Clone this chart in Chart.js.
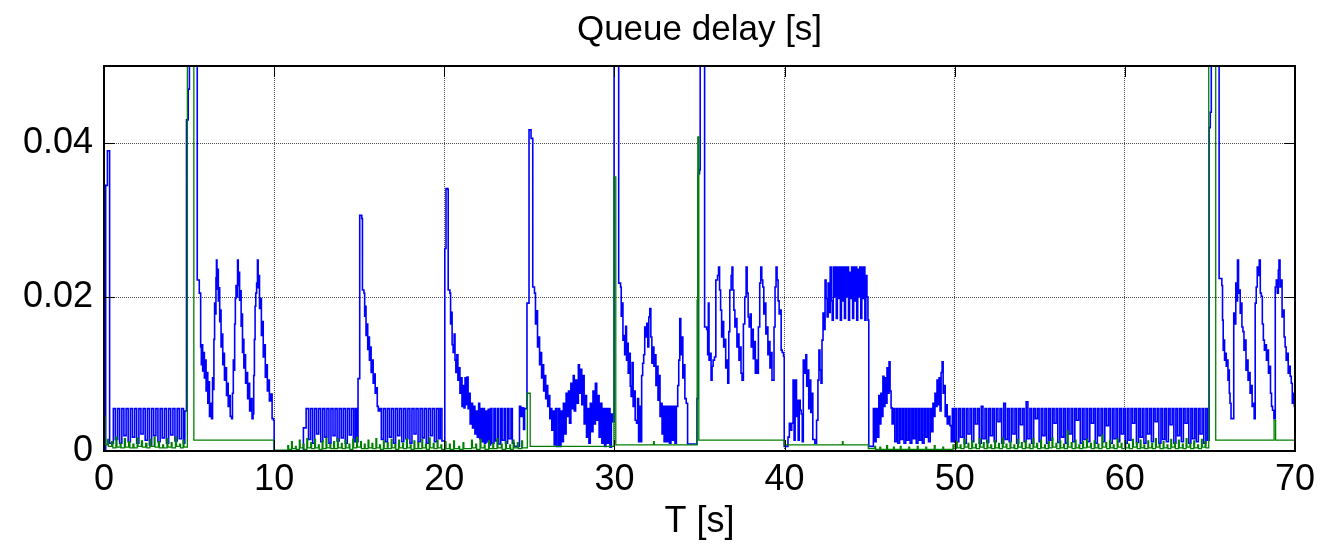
<!DOCTYPE html>
<html>
<head>
<meta charset="utf-8">
<script src="https://cdn.jsdelivr.net/npm/chart.js@4.4.1/dist/chart.umd.min.js"></script>
<style>
body{margin:0;background:#fff}
canvas{display:block}
</style>
</head>
<body>
<canvas id="myChart" width="1340" height="544"></canvas>
<script>
// tick values
const xTicks = [0, 10, 20, 30, 40, 50, 60, 70]
const yTicks = [0, 0.02, 0.04]

// blue queue: [time s, delay s] (0.08 = off the top)
const blueQueue = [
  [0,0],[0.1,0.0345],[0.2,0.039],[0.33,0.001],
  [0.55,0.0055],[0.67,0.0015],[0.8,0.0055],[0.92,0.001],[1.05,0.0055],[1.17,0.002],[1.3,0.0055],[1.42,0.0012],
  [1.55,0.0055],[1.67,0.0018],[1.8,0.0055],[1.92,0.001],[2.05,0.0055],[2.17,0.0022],[2.3,0.0055],[2.42,0.0014],
  [2.55,0.0055],[2.67,0.0008],[2.8,0.0055],[2.92,0.002],[3.05,0.0055],[3.17,0.0012],[3.3,0.0055],[3.42,0.0017],
  [3.55,0.0055],[3.67,0.001],[3.8,0.0055],[3.92,0.0021],[4.05,0.0055],[4.17,0.0013],[4.3,0.0055],[4.42,0.0016],
  [4.55,0.0055],[4.67,0.001],[4.75,0.0052],
  [4.85,0.043],[4.95,0.047],[5.02,0.08],
  [5.48,0.0222],[5.6,0.0205],[5.68,0.0135],[5.72,0.0112],[5.76,0.0138],[5.8,0.0104],[5.86,0.0128],[5.9,0.0095],
  [5.95,0.0118],[6.0,0.0078],[6.05,0.0102],[6.1,0.0062],[6.15,0.009],[6.2,0.0045],[6.27,0.0062],[6.32,0.0042],
  [6.38,0.0095],[6.42,0.008],[6.46,0.0145],[6.5,0.0192],[6.54,0.0178],[6.58,0.0225],[6.61,0.0248],[6.64,0.021],
  [6.68,0.0236],[6.72,0.0195],[6.76,0.0212],[6.8,0.0168],[6.84,0.0183],[6.88,0.0135],[6.93,0.0152],[6.98,0.0112],
  [7.03,0.0127],[7.08,0.0092],[7.14,0.0108],[7.2,0.0072],[7.25,0.0088],[7.3,0.0058],[7.36,0.0072],[7.42,0.0045],
  [7.5,0.0042],[7.55,0.0075],[7.6,0.0118],[7.64,0.0105],[7.68,0.0165],[7.72,0.0198],[7.76,0.0215],[7.8,0.02],
  [7.85,0.0248],[7.89,0.0215],[7.93,0.0232],[7.97,0.0196],[8.02,0.0208],[8.06,0.0162],[8.1,0.0178],[8.14,0.0128],
  [8.18,0.0145],[8.22,0.0108],[8.28,0.0125],[8.32,0.0088],[8.38,0.0102],[8.44,0.0068],[8.5,0.0088],[8.56,0.0052],
  [8.62,0.0068],[8.7,0.0042],[8.76,0.0048],[8.8,0.0098],[8.84,0.0145],[8.88,0.0188],[8.92,0.0205],[8.97,0.0218],
  [9.02,0.0248],[9.06,0.0212],[9.1,0.0228],[9.14,0.0185],[9.2,0.0198],[9.25,0.015],[9.3,0.0168],[9.36,0.0122],
  [9.42,0.0138],[9.48,0.0096],[9.54,0.0112],[9.6,0.0078],[9.66,0.0092],[9.72,0.0065],[9.8,0.0074],[9.88,0.0042],
  [9.96,0.004],[10.0,0],
  [11.72,0.003],[11.88,0.0055],[12.02,0.0015],[12.14,0.0055],[12.26,0.001],[12.38,0.0055],[12.5,0.0022],[12.62,0.0055],
  [12.74,0.0012],[12.86,0.0055],[12.98,0.0018],[13.1,0.0055],[13.22,0.001],[13.34,0.0055],[13.46,0.002],[13.58,0.0055],
  [13.7,0.0013],[13.82,0.0055],[13.94,0.0017],[14.06,0.0055],[14.18,0.001],[14.3,0.0055],[14.42,0.0021],[14.54,0.0055],
  [14.66,0.0012],[14.76,0.0055],[14.84,0.0012],
  [14.93,0.0094],[15.03,0.0306],[15.15,0.0302],[15.19,0.0209],[15.28,0.0205],[15.32,0.0175],[15.36,0.0188],[15.4,0.015],
  [15.44,0.0165],[15.5,0.0132],[15.55,0.0148],[15.6,0.0118],[15.65,0.0135],[15.7,0.0102],[15.76,0.0118],[15.82,0.0088],
  [15.88,0.01],[15.94,0.0075],[16.0,0.0082],[16.06,0.0058],[16.12,0.0052],[16.2,0.0055],
  [16.3,0.0015],[16.42,0.0055],[16.54,0.0012],[16.66,0.0055],[16.78,0.0018],[16.9,0.0055],[17.02,0.001],[17.14,0.0055],
  [17.26,0.002],[17.38,0.0055],[17.5,0.0012],[17.62,0.0055],[17.74,0.0016],[17.86,0.0055],[17.98,0.001],[18.1,0.0055],
  [18.22,0.0022],[18.34,0.0055],[18.46,0.0012],[18.58,0.0055],[18.7,0.0017],[18.82,0.0055],[18.94,0.001],[19.06,0.0055],
  [19.18,0.002],[19.3,0.0055],[19.42,0.0012],[19.54,0.0055],[19.66,0.0016],[19.76,0.0055],[19.86,0.0013],
  [20.03,0.0263],[20.1,0.0341],[20.2,0.034],[20.23,0.0209],[20.33,0.0205],[20.37,0.0165],[20.42,0.018],[20.46,0.0138],
  [20.52,0.0128],[20.58,0.0152],[20.63,0.0118],[20.68,0.0102],[20.74,0.0125],[20.8,0.0092],[20.86,0.0108],[20.92,0.0075],
  [20.98,0.0095],[21.04,0.0058],[21.1,0.0085],[21.16,0.0056],[21.22,0.0095],[21.28,0.006],[21.34,0.0096],[21.4,0.0055],
  [21.46,0.0075],[21.52,0.0035],[21.6,0.0062],[21.66,0.003],[21.74,0.0058],[21.8,0.0022],[21.88,0.0052],[21.94,0.0018],
  [22.02,0.0062],[22.08,0.0016],[22.16,0.0055],[22.22,0.0012],[22.3,0.0055],[22.36,0.001],[22.44,0.0052],[22.5,0.0012],
  [22.58,0.0054],[22.64,0.0008],[22.72,0.0055],[22.8,0.001],[22.92,0.0055],[23.0,0.0013],[23.12,0.0055],[23.2,0.0009],
  [23.32,0.0055],[23.4,0.0014],[23.52,0.0055],[23.6,0.001],[23.72,0.0055],[23.8,0.0016],[23.92,0.0055],[24.0,0.001],
  [24.1,0.0006],[24.42,0.0058],[24.5,0.0045],[24.58,0.0056],[24.66,0.0028],[24.72,0.0055],
  [24.86,0.0192],[24.98,0.0417],[25.1,0.0406],[25.2,0.0213],[25.3,0.0205],[25.36,0.0165],[25.42,0.0182],[25.48,0.0135],
  [25.54,0.0148],[25.6,0.0112],[25.66,0.0128],[25.72,0.0095],[25.78,0.0112],[25.84,0.0078],[25.9,0.0098],[25.96,0.0068],
  [26.02,0.0085],[26.08,0.0058],[26.14,0.0072],[26.2,0.0042],[26.26,0.0055],[26.32,0.0027],[26.4,0.0052],[26.46,0.0008],
  [26.54,0.0055],[26.6,0.0006],[26.7,0.0055],[26.78,0.0006],[26.86,0.0052],[26.94,0.0012],[27.0,0.0062],[27.08,0.0022],
  [27.16,0.0075],[27.22,0.0045],[27.3,0.0078],[27.36,0.0036],[27.44,0.0088],[27.5,0.0055],[27.58,0.0098],[27.64,0.0052],
  [27.72,0.0092],[27.8,0.0062],[27.88,0.0112],[27.94,0.0075],[28.02,0.0106],[28.08,0.006],[28.16,0.0098],[28.22,0.0035],
  [28.3,0.0072],[28.36,0.0018],[28.44,0.0055],[28.5,0.001],[28.58,0.0062],[28.66,0.0025],[28.74,0.0078],[28.8,0.0035],
  [28.88,0.0088],[28.96,0.004],[29.04,0.0072],[29.1,0.0018],[29.18,0.0062],[29.26,0.001],[29.34,0.0055],[29.42,0.0006],
  [29.5,0.0055],[29.58,0.001],[29.66,0.0055],[29.74,0.0005],[29.82,0.0048],[29.9,0.0038],[29.98,0.08],
  [30.25,0.0218],[30.36,0.0213],[30.4,0.0175],[30.45,0.0192],[30.5,0.0144],[30.55,0.015],[30.6,0.0125],[30.66,0.0162],
  [30.71,0.0118],[30.76,0.014],[30.81,0.0101],[30.87,0.0127],[30.93,0.0084],[30.98,0.0071],[31.04,0.0115],[31.1,0.0058],
  [31.16,0.0078],[31.22,0.004],[31.3,0.0036],[31.36,0.0068],[31.42,0.0012],[31.48,0.0058],[31.54,0.0012],[31.6,0.0098],
  [31.66,0.0114],[31.72,0.0125],[31.78,0.0161],[31.84,0.0148],[31.9,0.0166],[31.96,0.0135],[32.02,0.0174],[32.08,0.0185],
  [32.14,0.0148],[32.2,0.0114],[32.26,0.0135],[32.32,0.011],[32.38,0.0125],[32.44,0.0085],[32.5,0.011],[32.56,0.0066],
  [32.62,0.0098],[32.68,0.0045],[32.74,0.0062],[32.8,0.0022],[32.86,0.0058],[32.92,0.0012],[33.0,0.0058],[33.08,0.0012],
  [33.16,0.0058],[33.24,0.001],[33.32,0.0058],[33.4,0.0014],[33.48,0.0058],[33.56,0.001],[33.64,0.0058],[33.72,0.0085],
  [33.78,0.0118],[33.84,0.0172],[33.9,0.0125],[33.96,0.0148],[34.02,0.0095],[34.08,0.0112],[34.14,0.0068],[34.22,0.0062],
  [34.3,0.0009],[34.8,0.0009],[34.85,0.0068],[34.92,0.036],[35.0,0.0365],[35.04,0.08],
  [35.3,0.0161],[35.42,0.0158],[35.48,0.0125],[35.52,0.0192],[35.56,0.0118],[35.62,0.0127],[35.68,0.0092],[35.74,0.011],
  [35.8,0.0118],[35.88,0.0122],[35.96,0.0222],[36.06,0.0228],[36.12,0.0239],[36.18,0.0209],[36.24,0.0183],[36.3,0.0148],
  [36.36,0.0168],[36.42,0.0135],[36.48,0.0145],[36.54,0.0108],[36.6,0.0118],[36.66,0.0088],[36.72,0.0155],[36.78,0.0209],
  [36.86,0.0228],[36.91,0.0239],[36.96,0.0209],[37.02,0.0183],[37.08,0.0161],[37.14,0.0172],[37.2,0.0135],[37.26,0.0152],
  [37.32,0.0118],[37.38,0.0135],[37.44,0.0101],[37.5,0.0092],[37.58,0.0165],[37.66,0.02],[37.74,0.0239],[37.8,0.0205],
  [37.86,0.0174],[37.92,0.0161],[37.98,0.0178],[38.04,0.0135],[38.1,0.0158],[38.16,0.012],[38.22,0.0142],[38.28,0.0101],
  [38.34,0.0118],[38.4,0.0101],[38.46,0.0161],[38.54,0.0218],[38.6,0.0239],[38.66,0.0222],[38.72,0.0213],[38.78,0.0178],
  [38.84,0.0192],[38.9,0.0152],[38.96,0.0161],[39.02,0.0125],[39.08,0.0142],[39.14,0.0108],[39.2,0.0128],[39.26,0.0092],
  [39.32,0.0092],[39.38,0.0161],[39.44,0.0213],[39.5,0.0239],[39.56,0.0222],[39.62,0.0195],[39.68,0.0178],[39.74,0.0183],
  [39.8,0.0131],[39.86,0.0128],[39.94,0.0123],[39.98,0.0006],
  [40.2,0.0018],[40.28,0.0036],[40.34,0.0027],[40.42,0.0036],[40.5,0.0092],[40.56,0.0014],[40.62,0.0092],[40.7,0.0045],
  [40.76,0.0066],[40.8,0.0014],[40.86,0.0066],[40.92,0.0053],[40.98,0.0048],[41.04,0.0012],[41.1,0.0118],[41.18,0.0101],
  [41.25,0.0125],[41.3,0.0084],[41.36,0.0105],[41.42,0.0055],[41.48,0.0092],[41.54,0.005],[41.6,0.0075],[41.66,0.0015],
  [41.78,0.001],[41.88,0.004],[41.96,0.0092],[42.02,0.0131],[42.08,0.0105],[42.14,0.0088],[42.2,0.0144],[42.26,0.0179],
  [42.32,0.0158],[42.38,0.0222],[42.44,0.0198],[42.5,0.0174],[42.56,0.0218],[42.62,0.018],[42.68,0.0239],[42.74,0.0195],
  [42.8,0.017],[42.86,0.0239],[42.92,0.02],[42.98,0.0239],[43.04,0.0172],[43.1,0.0239],[43.16,0.0198],[43.22,0.0239],
  [43.28,0.017],[43.34,0.0239],[43.4,0.0195],[43.46,0.0239],[43.52,0.0172],[43.58,0.0239],[43.64,0.02],[43.7,0.0239],
  [43.76,0.017],[43.82,0.0232],[43.88,0.0198],[43.94,0.0239],[44.0,0.0172],[44.06,0.0239],[44.12,0.0195],[44.18,0.0239],
  [44.24,0.017],[44.3,0.0236],[44.36,0.02],[44.42,0.0239],[44.48,0.0172],[44.54,0.0239],[44.6,0.0198],[44.66,0.0239],
  [44.72,0.017],[44.78,0.0228],[44.84,0.02],[44.9,0.017],[44.95,0.0006],
  [45.22,0.0055],[45.3,0.0012],[45.38,0.0055],[45.46,0.0018],[45.54,0.0072],[45.6,0.0035],[45.66,0.0075],[45.72,0.0045],
  [45.78,0.0097],[45.84,0.0058],[45.9,0.0095],[45.96,0.0062],[46.02,0.0108],[46.08,0.0075],[46.14,0.0116],[46.2,0.0078],
  [46.26,0.0056],[46.32,0.0035],[46.4,0.0055],[46.48,0.0012],[46.58,0.0055],[46.66,0.001],[46.76,0.0055],[46.84,0.0015],
  [46.94,0.0055],[47.02,0.001],[47.12,0.0055],[47.2,0.0014],[47.3,0.0055],[47.38,0.001],[47.48,0.0055],[47.56,0.0016],
  [47.66,0.0055],[47.74,0.001],[47.84,0.0055],[47.92,0.0014],[48.02,0.0055],[48.1,0.001],[48.2,0.0055],[48.28,0.0018],
  [48.38,0.0055],[48.46,0.0012],[48.56,0.0055],[48.64,0.0025],[48.72,0.0062],[48.78,0.0045],[48.84,0.0075],[48.9,0.0058],
  [48.96,0.0092],[49.02,0.006],[49.08,0.0095],[49.14,0.0052],[49.2,0.0102],[49.26,0.0116],[49.32,0.0075],[49.38,0.0085],
  [49.44,0.0045],[49.5,0.006],[49.56,0.0035],[49.64,0.0045],[49.72,0.0033],[49.8,0.0012],[49.86,0.0055],[49.94,0.0012],
  [50.02,0.0055],[50.12,0.0012],[50.24,0.0055],[50.34,0.0018],[50.46,0.0055],[50.56,0.001],[50.68,0.0055],[50.78,0.0022],
  [50.9,0.0055],[51.0,0.0012],[51.12,0.0055],[51.22,0.0035],[51.34,0.0055],[51.44,0.001],[51.56,0.0058],[51.66,0.0016],
  [51.78,0.0055],[51.88,0.0011],[52.0,0.0055],[52.1,0.002],[52.22,0.0055],[52.32,0.0012],[52.44,0.0055],[52.54,0.0038],
  [52.66,0.0055],[52.76,0.001],[52.88,0.0062],[52.98,0.0015],[53.1,0.0055],[53.2,0.0012],[53.32,0.0055],[53.42,0.0022],
  [53.54,0.0055],[53.64,0.001],[53.76,0.0055],[53.86,0.0034],[53.98,0.0055],[54.08,0.0012],[54.2,0.0064],[54.3,0.0016],
  [54.42,0.0055],[54.52,0.001],[54.64,0.0055],[54.74,0.0042],[54.86,0.0055],[54.96,0.0012],[55.08,0.0055],[55.18,0.002],
  [55.3,0.0055],[55.4,0.001],[55.52,0.0055],[55.62,0.0014],[55.74,0.0055],[55.84,0.0036],[55.96,0.0055],[56.06,0.0011],
  [56.18,0.0055],[56.28,0.0018],[56.4,0.0055],[56.5,0.001],[56.62,0.0055],[56.72,0.0022],[56.84,0.0055],[56.94,0.0012],
  [57.06,0.0055],[57.16,0.004],[57.28,0.0055],[57.38,0.001],[57.5,0.0055],[57.6,0.0015],[57.72,0.0055],[57.82,0.0012],
  [57.94,0.0055],[58.04,0.0036],[58.16,0.0055],[58.26,0.001],[58.38,0.0055],[58.48,0.002],[58.6,0.0055],[58.7,0.0012],
  [58.82,0.0055],[58.92,0.0033],[59.04,0.0055],[59.14,0.001],[59.26,0.0055],[59.36,0.0016],[59.48,0.0055],[59.58,0.0012],
  [59.7,0.0055],[59.8,0.0022],[59.92,0.0055],[60.02,0.001],[60.14,0.0055],[60.24,0.0014],[60.36,0.0055],[60.46,0.0036],
  [60.58,0.0055],[60.68,0.0011],[60.8,0.0055],[60.9,0.0018],[61.02,0.0055],[61.12,0.001],[61.24,0.0055],[61.34,0.0022],
  [61.46,0.0055],[61.56,0.0012],[61.68,0.0055],[61.78,0.0038],[61.9,0.0055],[62.0,0.001],[62.12,0.0055],[62.22,0.0015],
  [62.34,0.0055],[62.44,0.0012],[62.56,0.0055],[62.66,0.0034],[62.78,0.0055],[62.88,0.001],[63.0,0.0055],[63.1,0.002],
  [63.22,0.0055],[63.32,0.0012],[63.44,0.0055],[63.54,0.0036],[63.66,0.0055],[63.76,0.001],[63.88,0.0055],[63.98,0.0016],
  [64.1,0.0055],[64.2,0.0012],[64.32,0.0055],[64.42,0.0022],[64.54,0.0055],[64.64,0.001],[64.76,0.0055],[64.86,0.0014],
  [64.95,0.042],[65.02,0.044],[65.08,0.08],
  [65.54,0.0224],[65.7,0.0215],[65.74,0.017],[65.78,0.0131],[65.82,0.0144],[65.86,0.0118],[65.9,0.0127],[65.96,0.011],
  [66.02,0.0118],[66.06,0.0092],[66.1,0.0105],[66.14,0.0075],[66.18,0.0062],[66.24,0.0042],[66.34,0.0042],[66.4,0.0179],
  [66.46,0.0165],[66.52,0.0218],[66.58,0.0195],[66.62,0.0248],[66.68,0.0205],[66.74,0.0209],[66.78,0.0179],[66.82,0.0192],
  [66.88,0.0161],[66.94,0.0155],[67.0,0.0131],[67.06,0.0144],[67.12,0.0105],[67.18,0.0118],[67.24,0.0092],[67.3,0.0102],
  [67.36,0.0075],[67.42,0.0085],[67.48,0.0058],[67.54,0.0062],[67.6,0.0042],[67.66,0.0192],[67.72,0.0213],[67.78,0.0239],
  [67.84,0.0228],[67.9,0.0248],[67.96,0.0205],[68.02,0.0201],[68.08,0.0165],[68.14,0.0144],[68.2,0.0131],[68.26,0.0138],
  [68.32,0.0118],[68.38,0.0131],[68.44,0.0101],[68.5,0.011],[68.56,0.0075],[68.62,0.0058],[68.68,0.0053],[68.76,0.0042],
  [68.84,0.0213],[68.9,0.0222],[68.96,0.0205],[69.02,0.0235],[69.06,0.0248],[69.12,0.0213],[69.18,0.0222],[69.24,0.0174],
  [69.3,0.0183],[69.36,0.0148],[69.42,0.0135],[69.48,0.0118],[69.54,0.0127],[69.6,0.0101],[69.66,0.011],[69.72,0.0097],
  [69.78,0.0088],[69.84,0.0062],[69.9,0.0075],[69.96,0.0058],[70,0.0058]
]

// green queue: [time s, delay s]
const greenQueue = [
  [0,0.0045],[0.06,0.0008],[0.2,0.0015],[0.26,0.0006],[0.45,0.0012],[0.52,0.0004],[0.7,0.0018],[0.76,0.0005],
  [0.95,0.001],[1.0,0.0004],[1.2,0.0016],[1.26,0.0005],[1.45,0.0012],[1.52,0.0004],[1.7,0.0009],[1.76,0.0004],
  [1.95,0.0017],[2.0,0.0006],[2.2,0.0013],[2.26,0.0005],[2.45,0.001],[2.52,0.0004],[2.7,0.0015],[2.76,0.0006],
  [2.95,0.0018],[3.0,0.0005],[3.2,0.0012],[3.26,0.0004],[3.45,0.0008],[3.5,0.0004],[3.7,0.0016],[3.76,0.0005],
  [3.95,0.0011],[4.0,0.0004],[4.2,0.0018],[4.26,0.0006],[4.45,0.0009],[4.5,0.0004],[4.65,0.0014],[4.7,0.0005],
  [4.9,0.08],[5.28,0.0014],[9.98,0.0014],[10.0,0.0001],
  [10.8,0.0007],[10.85,0.0002],[11.02,0.0012],[11.07,0.0003],[11.25,0.0006],[11.3,0.0002],[11.48,0.0014],[11.53,0.0004],
  [11.7,0.0009],[11.75,0.0002],[11.92,0.0016],[11.97,0.0004],[12.15,0.0011],[12.2,0.0003],[12.38,0.0015],[12.43,0.0004],
  [12.6,0.0008],[12.65,0.0002],[12.82,0.0013],[12.87,0.0003],[13.05,0.0017],[13.1,0.0004],[13.28,0.0009],[13.33,0.0003],
  [13.5,0.0012],[13.55,0.0003],[13.72,0.0016],[13.77,0.0004],[13.95,0.001],[14.0,0.0003],[14.18,0.0014],[14.23,0.0004],
  [14.4,0.0009],[14.45,0.0002],[14.62,0.0015],[14.67,0.0004],[14.85,0.0018],[14.9,0.0005],[15.08,0.0012],[15.13,0.0003],
  [15.3,0.0009],[15.35,0.0003],[15.52,0.0014],[15.57,0.0004],[15.75,0.001],[15.8,0.0003],[15.98,0.0016],[16.03,0.0004],
  [16.2,0.0008],[16.25,0.0002],[16.42,0.0013],[16.47,0.0003],[16.65,0.0011],[16.7,0.0003],[16.88,0.0015],[16.93,0.0004],
  [17.1,0.0009],[17.15,0.0002],[17.32,0.0014],[17.37,0.0004],[17.55,0.001],[17.6,0.0003],[17.78,0.0016],[17.83,0.0004],
  [18.0,0.0008],[18.05,0.0002],[18.22,0.0013],[18.27,0.0003],[18.45,0.0011],[18.5,0.0003],[18.68,0.0015],[18.73,0.0004],
  [18.9,0.0009],[18.95,0.0002],[19.12,0.0017],[19.17,0.0004],[19.35,0.001],[19.4,0.0003],[19.58,0.0014],[19.63,0.0004],
  [19.8,0.0008],[19.85,0.0002],[20.05,0.0012],[20.1,0.0003],[20.3,0.0009],[20.35,0.0002],[20.55,0.0013],[20.6,0.0003],
  [20.85,0.0006],[20.9,0.0002],[21.1,0.0011],[21.15,0.0003],[21.6,0.0014],[21.65,0.0004],[21.85,0.0009],[21.9,0.0002],
  [22.1,0.0015],[22.15,0.0004],[22.35,0.0008],[22.4,0.0002],[22.6,0.0013],[22.65,0.0003],[22.85,0.001],[22.9,0.0003],
  [23.1,0.0016],[23.15,0.0004],[23.35,0.0009],[23.4,0.0002],[23.6,0.0012],[23.65,0.0003],[23.85,0.0008],[23.9,0.0002],
  [24.05,0.0014],[24.1,0.0004],[24.3,0.0011],[24.35,0.0003],[24.55,0.0013],[24.6,0.0004],
  [24.88,0.0075],[25.05,0.0006],[29.97,0.0356],[30.08,0.0008],[32.3,0.0012],[32.34,0.0008],
  [34.86,0.0196],[34.9,0.0408],[34.96,0.0014],[39.98,0.0008],[43.4,0.0012],[43.44,0.0008],[44.92,0.0003],
  [45.3,0.0006],[45.35,0.0002],[45.6,0.0005],[45.65,0.0002],[46.0,0.0007],[46.05,0.0002],[46.4,0.0005],[46.45,0.0002],
  [46.8,0.0006],[46.85,0.0002],[47.3,0.0005],[47.35,0.0002],[47.8,0.0006],[47.85,0.0002],[48.3,0.0005],[48.35,0.0002],
  [48.8,0.0007],[48.85,0.0002],[49.3,0.0005],[49.35,0.0002],[49.9,0.0008],[49.95,0.0003],
  [50.1,0.0012],[50.15,0.0004],[50.32,0.0008],[50.37,0.0003],[50.55,0.0015],[50.6,0.0005],[50.78,0.001],[50.83,0.0003],
  [51.0,0.0013],[51.05,0.0004],[51.22,0.0009],[51.27,0.0003],[51.45,0.0016],[51.5,0.0005],[51.68,0.0011],[51.73,0.0003],
  [51.9,0.0014],[51.95,0.0004],[52.12,0.0008],[52.17,0.0003],[52.35,0.0013],[52.4,0.0004],[52.58,0.001],[52.63,0.0003],
  [52.8,0.0017],[52.85,0.0005],[53.02,0.0009],[53.07,0.0003],[53.25,0.0012],[53.3,0.0004],[53.48,0.0008],[53.53,0.0003],
  [53.7,0.0015],[53.75,0.0005],[53.92,0.0011],[53.97,0.0003],[54.15,0.0013],[54.2,0.0004],[54.38,0.0009],[54.43,0.0003],
  [54.6,0.0016],[54.65,0.0005],[54.82,0.001],[54.87,0.0003],[55.05,0.0014],[55.1,0.0004],[55.28,0.0008],[55.33,0.0003],
  [55.5,0.0012],[55.55,0.0004],[55.72,0.0017],[55.77,0.0005],[55.95,0.001],[56.0,0.0003],[56.18,0.0013],[56.23,0.0004],
  [56.4,0.0009],[56.45,0.0003],[56.62,0.0026],[56.67,0.0005],[56.85,0.0011],[56.9,0.0003],[57.08,0.0014],[57.13,0.0004],
  [57.3,0.0008],[57.35,0.0003],[57.52,0.0012],[57.57,0.0004],[57.75,0.0015],[57.8,0.0005],[57.98,0.001],[58.03,0.0003],
  [58.2,0.0013],[58.25,0.0004],[58.42,0.0009],[58.47,0.0003],[58.65,0.0021],[58.7,0.0005],[58.88,0.0011],[58.93,0.0003],
  [59.1,0.0014],[59.15,0.0004],[59.32,0.0008],[59.37,0.0003],[59.55,0.0016],[59.6,0.0005],[59.78,0.001],[59.83,0.0003],
  [60.0,0.0013],[60.05,0.0004],[60.22,0.0009],[60.27,0.0003],[60.45,0.0015],[60.5,0.0005],[60.68,0.0011],[60.73,0.0003],
  [60.9,0.0014],[60.95,0.0004],[61.12,0.0008],[61.17,0.0003],[61.35,0.0013],[61.4,0.0004],[61.58,0.001],[61.63,0.0003],
  [61.8,0.0016],[61.85,0.0005],[62.02,0.0009],[62.07,0.0003],[62.25,0.0012],[62.3,0.0004],[62.48,0.0008],[62.53,0.0003],
  [62.7,0.0015],[62.75,0.0005],[62.92,0.0011],[62.97,0.0003],[63.15,0.0014],[63.2,0.0004],[63.38,0.0009],[63.43,0.0003],
  [63.6,0.0016],[63.65,0.0005],[63.82,0.001],[63.87,0.0003],[64.05,0.0013],[64.1,0.0004],[64.28,0.0008],[64.33,0.0003],
  [64.5,0.0015],[64.55,0.0005],[64.72,0.0012],[64.77,0.0004],
  [64.93,0.08],[65.34,0.0014],[68.77,0.004],[68.86,0.0014],[70,0.0014]
]

const FONT = "Arial, 'Liberation Sans', sans-serif"

// matlab style box with inward ticks
const boxPlugin = {
  id: 'box',
  afterDraw(chart) {
    const c = chart.ctx
    const a = chart.chartArea
    const xs = chart.scales.x
    const ys = chart.scales.y
    c.save()
    c.strokeStyle = '#000'
    c.lineWidth = 1
    c.beginPath()
    xTicks.forEach(v => {
      let px = Math.round(xs.getPixelForValue(v)) + 0.5
      c.moveTo(px, a.bottom); c.lineTo(px, a.bottom - 11)
      c.moveTo(px, a.top); c.lineTo(px, a.top + 11)
    })
    yTicks.forEach(v => {
      let py = Math.round(ys.getPixelForValue(v)) + 0.5
      c.moveTo(a.left, py); c.lineTo(a.left + 11, py)
      c.moveTo(a.right, py); c.lineTo(a.right - 11, py)
    })
    c.stroke()
    c.lineWidth = 2
    c.strokeRect(a.left, a.top, a.right - a.left, a.bottom - a.top)
    c.restore()
  }
}

const ctx = document.getElementById('myChart').getContext('2d')
let myChart = new Chart(ctx, {
  type: 'line',
  data: {
    datasets: [
      {
        label: 'green',
        data: greenQueue.map(p => ({x: p[0], y: p[1]})),
        borderColor: '#008000',
        borderWidth: 1.3,
        stepped: true,
        fill: false,
        pointRadius: 0
      },
      {
        label: 'blue',
        data: blueQueue.map(p => ({x: p[0], y: p[1]})),
        borderColor: '#0000ff',
        borderWidth: 1.6,
        stepped: true,
        fill: false,
        pointRadius: 0
      }
    ]
  },
  options: {
    responsive: false,
    animation: false,
    devicePixelRatio: 1,
    layout: {padding: {left: 0, right: 45, top: 0, bottom: 0}},
    plugins: {
      legend: {display: false},
      tooltip: {enabled: false},
      title: {
        display: true,
        fullSize: false,
        text: 'Queue delay [s]',
        color: '#000',
        font: {family: FONT, size: 35, weight: 'normal', lineHeight: 1.2},
        padding: {top: 9, bottom: 15}
      }
    },
    scales: {
      x: {
        type: 'linear',
        min: 0,
        max: 70,
        afterFit: s => { s.height = 93 },
        afterBuildTicks: s => { s.ticks = xTicks.map(v => ({value: v})) },
        ticks: {color: '#000', font: {family: FONT, size: 36}, padding: 7, maxRotation: 0, autoSkip: false},
        grid: {color: 'rgba(0,0,0,0.7)', lineWidth: 1, drawTicks: false},
        border: {display: false, dash: [1, 1]},
        title: {display: true, text: 'T [s]', color: '#000', font: {family: FONT, size: 36, lineHeight: 1.2}, padding: {top: 0, bottom: 0}}
      },
      y: {
        min: 0,
        max: 0.05,
        afterFit: s => { s.width = 104 },
        afterBuildTicks: s => { s.ticks = yTicks.map(v => ({value: v})) },
        ticks: {color: '#000', font: {family: FONT, size: 36}, padding: 11, callback: v => v === 0 ? '0' : v.toFixed(2)},
        grid: {color: 'rgba(0,0,0,0.7)', lineWidth: 1, drawTicks: false},
        border: {display: false, dash: [1, 1]}
      }
    }
  },
  plugins: [boxPlugin]
})
</script>
</body>
</html>
